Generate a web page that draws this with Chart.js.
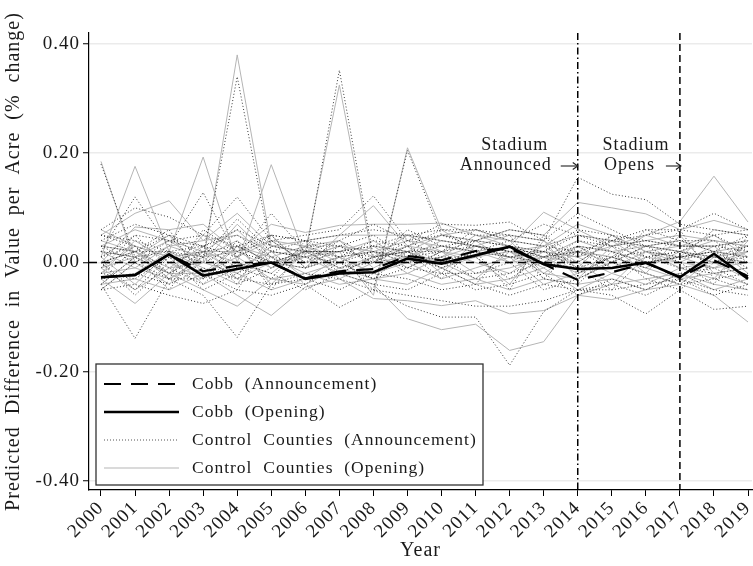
<!DOCTYPE html>
<html><head><meta charset="utf-8">
<script src="https://cdn.jsdelivr.net/npm/chart.js@4.4.1/dist/chart.umd.min.js"></script>
<style>html,body{margin:0;padding:0;background:#fff}canvas{display:block}</style>
</head><body>
<canvas id="c" width="753" height="566"></canvas>
<script>
// ---------- DATA ----------
const years = [2000,2001,2002,2003,2004,2005,2006,2007,2008,2009,2010,2011,2012,2013,2014,2015,2016,2017,2018,2019];
const yTickValues = [-0.4,-0.2,0,0.2,0.4];
const announcedYear = 2014;
const opensYear = 2017;

const cobbAnnouncement = [-0.027,-0.023,0.015,-0.016,-0.006,0.000,-0.029,-0.016,-0.012,0.012,0.004,0.021,0.026,-0.003,-0.032,-0.018,-0.001,-0.027,0.004,-0.025];
const cobbOpening      = [-0.027,-0.023,0.015,-0.024,-0.012,0.000,-0.030,-0.020,-0.018,0.007,-0.002,0.013,0.029,-0.003,-0.012,-0.010,0.000,-0.027,0.016,-0.030];

// control counties, opening-based estimates
const ctlOpen01 = [0.03,0.02,-0.01,0.00,0.38,0.03,0.02,-0.01,0.01,0.02,0.00,0.01,0.02,-0.01,0.03,0.02,0.00,0.01,0.02,0.01];
const ctlOpen02 = [-0.01,0.03,0.01,0.02,-0.02,0.03,0.02,0.325,0.00,0.01,0.03,0.02,0.00,0.01,-0.02,0.00,0.03,0.02,0.00,0.02];
const ctlOpen03 = [0.185,0.00,0.03,0.01,0.02,-0.01,0.01,0.02,-0.06,0.21,0.06,0.02,0.01,0.00,0.02,0.01,-0.01,0.02,0.01,0.00];
const ctlOpen04 = [0.01,0.176,0.02,0.193,0.00,0.179,0.01,0.03,0.02,0.01,0.04,0.03,0.02,0.03,0.05,0.04,0.03,0.02,0.04,0.03];
const ctlOpen05 = [0.05,0.09,0.113,0.04,0.09,0.03,0.04,0.05,0.104,0.03,0.05,0.04,0.06,0.05,0.11,0.10,0.089,0.06,0.077,0.06];
const ctlOpen06 = [0.00,0.065,0.06,0.07,0.02,0.07,0.055,0.068,0.07,0.07,0.072,0.05,0.03,0.092,0.06,0.03,0.05,0.075,0.158,0.074];
const ctlOpen07 = [-0.03,-0.075,-0.02,-0.05,-0.08,-0.03,-0.02,-0.04,-0.03,-0.02,-0.04,-0.03,-0.05,-0.03,-0.04,-0.03,-0.05,-0.02,-0.04,-0.05];
const ctlOpen08 = [-0.02,-0.01,-0.03,0.00,-0.02,-0.05,-0.03,-0.02,-0.04,-0.103,-0.123,-0.113,-0.161,-0.145,-0.06,-0.04,-0.03,-0.02,-0.05,-0.03];
const ctlOpen09 = [-0.04,-0.03,-0.05,-0.02,-0.06,-0.097,-0.045,-0.03,-0.066,-0.07,-0.079,-0.07,-0.094,-0.088,-0.06,-0.068,-0.05,-0.04,-0.06,-0.109];
const ctlOpen10 = [0.02,-0.01,0.03,0.04,0.05,0.02,0.01,0.03,0.02,0.04,0.03,0.02,0.03,0.01,0.04,0.02,0.03,0.04,0.02,0.03];
const ctlOpen11 = [-0.02,0.04,0.00,-0.03,0.03,0.01,-0.02,0.00,0.03,-0.01,0.02,0.00,-0.02,0.02,0.01,-0.02,0.01,0.00,0.03,-0.02];
const ctlOpen12 = [0.01,-0.04,0.02,-0.01,-0.04,0.05,-0.01,0.01,-0.02,0.01,0.00,-0.03,0.02,-0.02,-0.03,0.03,-0.02,-0.04,0.01,0.02];
const ctlOpen13 = [-0.05,0.00,-0.04,0.02,0.00,-0.02,0.03,-0.03,0.00,0.03,-0.02,0.04,0.00,0.03,-0.01,0.05,0.02,-0.01,-0.03,0.04];
const ctlOpen14 = [0.04,0.02,-0.02,0.05,0.01,0.04,0.00,0.02,0.04,0.00,0.01,0.05,0.04,-0.02,0.02,0.01,0.05,0.03,0.05,0.01];
const ctlOpen15 = [-0.01,0.01,0.05,-0.02,0.03,-0.04,0.02,0.04,-0.01,0.02,-0.01,0.01,-0.04,0.04,-0.03,0.00,-0.02,0.05,-0.02,-0.04];
const ctlOpen16 = [0.06,0.03,0.01,0.02,0.06,0.00,-0.01,0.05,0.05,0.05,0.04,0.03,0.05,0.04,0.00,0.04,0.00,0.01,0.06,0.05];
const ctlOpen17 = [0.00,0.02,-0.03,0.01,0.04,-0.01,0.03,0.01,0.02,-0.02,0.01,0.03,0.02,0.00,0.03,-0.01,0.02,0.01,-0.01,0.02];
const ctlOpen18 = [-0.03,-0.02,0.02,-0.04,-0.01,0.02,-0.03,0.01,-0.02,0.00,-0.03,-0.01,0.01,-0.04,-0.02,0.01,-0.01,-0.03,-0.02,-0.01];
const ctlOpen19 = [0.03,0.06,0.04,0.00,0.07,0.01,0.03,0.00,0.03,0.02,0.05,0.06,0.04,0.03,0.07,0.05,0.02,0.03,0.03,0.04];
const ctlOpen20 = [-0.01,-0.05,-0.01,0.03,-0.03,0.00,0.01,-0.02,0.01,0.03,0.02,-0.02,-0.01,0.01,0.00,-0.04,0.02,0.00,-0.01,0.00];
const ctlOpen21 = [0.02,0.01,0.04,0.02,0.02,0.04,0.03,0.04,0.01,0.05,0.02,0.01,0.03,0.02,0.01,0.03,0.04,0.05,0.04,0.03];
const ctlOpen22 = [-0.04,0.01,-0.02,-0.02,0.01,-0.03,-0.04,-0.01,-0.03,-0.04,-0.01,-0.04,-0.03,-0.01,-0.05,-0.02,-0.04,-0.01,0.00,-0.03];

// control counties, announcement-based estimates
const ctlAnn01 = [0.02,0.01,-0.02,0.01,0.34,0.02,0.01,0.00,0.02,0.01,-0.01,0.02,0.01,0.00,0.04,0.03,0.01,0.02,0.01,0.00];
const ctlAnn02 = [-0.02,0.02,0.02,0.01,-0.03,0.02,0.01,0.352,0.01,0.02,0.02,0.03,0.01,0.02,-0.01,0.01,0.02,0.01,0.01,0.03];
const ctlAnn03 = [0.18,0.01,0.02,0.00,0.03,0.00,0.02,0.01,-0.05,0.205,0.05,0.03,0.02,0.01,0.03,0.02,0.00,0.01,0.02,0.01];
const ctlAnn04 = [0.02,0.12,0.03,0.128,0.01,0.09,0.02,0.02,0.03,0.02,0.03,0.04,0.03,0.02,0.06,0.05,0.04,0.03,0.03,0.02];
const ctlAnn05 = [0.06,0.10,0.083,0.05,0.12,0.04,0.05,0.06,0.122,0.04,0.07,0.068,0.074,0.04,0.156,0.125,0.115,0.07,0.06,0.05];
const ctlAnn06 = [0.01,0.05,0.04,0.05,0.03,0.05,0.04,0.05,0.06,0.05,0.06,0.06,0.04,0.07,0.05,0.04,0.06,0.06,0.09,0.06];
const ctlAnn07 = [-0.04,-0.139,-0.03,-0.06,-0.137,-0.04,-0.03,-0.05,-0.02,-0.03,-0.05,-0.04,-0.06,-0.04,-0.05,-0.04,-0.06,-0.03,-0.05,-0.06];
const ctlAnn08 = [-0.03,-0.02,-0.04,-0.01,-0.03,-0.04,-0.02,-0.03,-0.05,-0.08,-0.10,-0.10,-0.188,-0.09,-0.05,-0.05,-0.04,-0.03,-0.06,-0.04];
const ctlAnn09 = [-0.05,-0.04,-0.06,-0.075,-0.05,-0.06,-0.04,-0.082,-0.05,-0.06,-0.07,-0.08,-0.08,-0.07,-0.05,-0.06,-0.094,-0.05,-0.086,-0.08];
const ctlAnn10 = [0.03,0.00,0.04,0.03,0.06,0.03,0.02,0.02,0.03,0.05,0.04,0.03,0.02,0.02,0.05,0.03,0.04,0.03,0.03,0.04];
const ctlAnn11 = [-0.01,0.05,-0.01,-0.04,0.02,0.00,-0.01,0.01,0.02,0.00,0.01,0.01,-0.03,0.01,0.02,-0.01,0.00,0.01,0.02,-0.01];
const ctlAnn12 = [0.00,-0.05,0.01,-0.02,-0.05,0.04,0.00,0.00,-0.03,0.02,-0.01,-0.04,0.03,-0.03,-0.04,0.02,-0.03,-0.05,0.00,0.01];
const ctlAnn13 = [-0.04,0.01,-0.05,0.03,-0.01,-0.03,0.04,-0.02,0.01,0.02,-0.03,0.03,0.01,0.02,0.00,0.04,0.03,0.00,-0.04,0.05];
const ctlAnn14 = [0.05,0.03,-0.03,0.06,0.02,0.05,-0.01,0.03,0.05,0.01,0.02,0.06,0.05,-0.03,0.03,0.00,0.06,0.04,0.04,0.00];
const ctlAnn15 = [0.00,0.02,0.06,-0.03,0.04,-0.05,0.03,0.03,0.00,0.03,0.00,0.02,-0.05,0.05,-0.02,0.01,-0.01,0.06,-0.03,-0.05];
const ctlAnn16 = [0.05,0.04,0.02,0.03,0.05,0.01,0.00,0.04,0.07,0.04,0.05,0.04,0.06,0.05,0.01,0.05,0.01,0.02,0.05,0.06];
const ctlAnn17 = [0.01,0.03,-0.02,0.02,0.03,0.00,0.02,0.02,0.01,-0.01,0.02,0.04,0.03,0.01,0.02,0.00,0.03,0.02,0.00,0.03];
const ctlAnn18 = [-0.02,-0.03,0.01,-0.05,-0.02,0.01,-0.04,0.00,-0.03,-0.01,-0.02,-0.02,0.00,-0.05,-0.03,0.00,-0.02,-0.04,-0.03,-0.02];
const ctlAnn19 = [0.04,0.07,0.05,0.01,0.08,0.02,0.04,0.01,0.04,0.03,0.06,0.05,0.05,0.04,0.09,0.06,0.03,0.04,0.02,0.05];
const ctlAnn20 = [0.00,-0.06,0.00,0.02,-0.04,-0.01,0.02,-0.01,0.00,0.04,0.01,-0.03,-0.02,0.00,-0.01,-0.05,0.01,-0.01,-0.02,-0.01];
const ctlAnn21 = [0.03,0.02,0.05,0.03,0.01,0.05,0.04,0.03,0.00,0.06,0.03,0.02,0.04,0.03,0.02,0.04,0.05,0.06,0.05,0.02];
const ctlAnn22 = [-0.05,0.00,-0.03,-0.03,0.00,-0.02,-0.05,-0.02,-0.04,-0.05,-0.02,-0.05,-0.04,-0.02,-0.06,-0.03,-0.05,-0.02,-0.01,-0.04];

const ctlOpening = [ctlOpen01,ctlOpen02,ctlOpen03,ctlOpen04,ctlOpen05,ctlOpen06,ctlOpen07,ctlOpen08,ctlOpen09,ctlOpen10,ctlOpen11,
                    ctlOpen12,ctlOpen13,ctlOpen14,ctlOpen15,ctlOpen16,ctlOpen17,ctlOpen18,ctlOpen19,ctlOpen20,ctlOpen21,ctlOpen22];
const ctlAnnouncement = [ctlAnn01,ctlAnn02,ctlAnn03,ctlAnn04,ctlAnn05,ctlAnn06,ctlAnn07,ctlAnn08,ctlAnn09,ctlAnn10,ctlAnn11,
                         ctlAnn12,ctlAnn13,ctlAnn14,ctlAnn15,ctlAnn16,ctlAnn17,ctlAnn18,ctlAnn19,ctlAnn20,ctlAnn21,ctlAnn22];

// ---------- STYLE ----------
const FONT = "'Liberation Serif','Times New Roman',serif";
const TXT = '#1a1a1a';
const TRACK = '1px';
const GRAY_SOLID = '#b5b5b5';
const DOT_COLOR = 'rgba(35,35,35,0.9)';
const COBB_DASH = [17,10];
const DOT_DASH = [1,2.2];

const toPts = arr => years.map((yr,i) => ({x: yr, y: arr[i]}));

const datasets = [];
datasets.push({label:'Cobb (Opening)', data: toPts(cobbOpening), borderColor:'#000', borderWidth:2.6});
datasets.push({label:'Cobb (Announcement)', data: toPts(cobbAnnouncement), borderColor:'#000', borderWidth:2.2, borderDash: COBB_DASH});
ctlAnnouncement.forEach(a => datasets.push({label:'Control Counties (Announcement)', data: toPts(a), borderColor: DOT_COLOR, borderWidth:1, borderDash: DOT_DASH}));
ctlOpening.forEach(a => datasets.push({label:'Control Counties (Opening)', data: toPts(a), borderColor: GRAY_SOLID, borderWidth:1}));
const lastControlAnnIndex = 2; // last control drawn (datasets draw in reverse order)

const legendItems = [
  {text:'Cobb  (Announcement)', color:'#000', width:2.2, dash: COBB_DASH},
  {text:'Cobb  (Opening)', color:'#000', width:2.4, dash: []},
  {text:'Control  Counties  (Announcement)', color:'#555', width:1, dash:[1,2]},
  {text:'Control  Counties  (Opening)', color:GRAY_SOLID, width:1, dash:[]}
];

const extras = {
  id:'extras',
  beforeUpdate(chart){ chart.ctx.letterSpacing = TRACK; },
  beforeDraw(chart){ chart.ctx.letterSpacing = TRACK; },
  afterDatasetDraw(chart, args){
    if (args.index !== lastControlAnnIndex) return;
    const {ctx, chartArea:a, scales:{y}} = chart;
    const y0 = y.getPixelForValue(0);
    ctx.save();
    ctx.strokeStyle = '#000'; ctx.lineWidth = 1.4; ctx.setLineDash([8,5]);
    ctx.beginPath(); ctx.moveTo(a.left, y0); ctx.lineTo(a.right, y0); ctx.stroke();
    ctx.restore();
  },
  afterDatasetsDraw(chart){
    const {ctx, chartArea:a, scales:{x}} = chart;
    const xa = x.getPixelForValue(announcedYear);
    const xo = x.getPixelForValue(opensYear);
    ctx.save();
    ctx.strokeStyle = '#000'; ctx.lineWidth = 1.5;
    ctx.setLineDash([7,3,1.5,3]);
    ctx.beginPath(); ctx.moveTo(xa, a.top); ctx.lineTo(xa, a.bottom); ctx.stroke();
    ctx.setLineDash([7,4]);
    ctx.beginPath(); ctx.moveTo(xo, a.top); ctx.lineTo(xo, a.bottom); ctx.stroke();
    ctx.setLineDash([]);
    ctx.fillStyle = TXT;
    ctx.font = '18px ' + FONT;
    ctx.textBaseline = 'middle';
    ctx.textAlign = 'center';
    ctx.fillText('Stadium', xa - 63, 145);
    ctx.fillText('Stadium', xo - 44, 145);
    ctx.textAlign = 'right';
    ctx.fillText('Announced', xa - 26, 165);
    ctx.fillText('Opens', xo - 25, 165);
    const arrow = (x0, x1, yy) => {
      ctx.lineWidth = 1.1; ctx.strokeStyle = '#222';
      ctx.beginPath(); ctx.moveTo(x0, yy); ctx.lineTo(x1, yy); ctx.stroke();
      ctx.beginPath(); ctx.moveTo(x1-5, yy-3.5); ctx.lineTo(x1, yy); ctx.lineTo(x1-5, yy+3.5); ctx.stroke();
    };
    arrow(xa - 17, xa, 166);
    arrow(xo - 14, xo + 1, 166);
    ctx.restore();
  },
  afterDraw(chart){
    const ctx = chart.ctx;
    const bx = 96, by = 364, bw = 387, bh = 121;
    ctx.save();
    ctx.fillStyle = '#fff'; ctx.fillRect(bx, by, bw, bh);
    ctx.strokeStyle = '#333'; ctx.lineWidth = 1.3; ctx.setLineDash([]);
    ctx.strokeRect(bx, by, bw, bh);
    ctx.font = '17.5px ' + FONT; ctx.fillStyle = TXT;
    ctx.textBaseline = 'middle'; ctx.textAlign = 'left';
    legendItems.forEach((it, i) => {
      const yy = by + 20 + i*28;
      ctx.strokeStyle = it.color; ctx.lineWidth = it.width; ctx.setLineDash(it.dash);
      ctx.beginPath(); ctx.moveTo(bx + 8, yy); ctx.lineTo(bx + 83, yy); ctx.stroke();
      ctx.setLineDash([]);
      ctx.fillText(it.text, bx + 96, yy);
    });
    ctx.restore();
  }
};

new Chart(document.getElementById('c'), {
  type: 'line',
  data: { datasets },
  options: {
    responsive: false,
    animation: false,
    events: [],
    layout: { padding: { top: 33, right: 1, left: 0, bottom: 0 } },
    elements: { point: { radius: 0 }, line: { tension: 0, fill: false } },
    plugins: { legend: { display: false }, tooltip: { enabled: false } },
    scales: {
      x: {
        type: 'linear',
        min: 1999.648, max: 2019.117,
        afterBuildTicks: s => { s.ticks = years.map(v => ({ value: v })); },
        afterFit: s => { s.height = 76; s.paddingLeft = 0; s.paddingRight = 0; },
        ticks: { autoSkip: false, maxRotation: 45, minRotation: 45, padding: 1,
                 color: TXT, font: { family: FONT, size: 19 }, callback: v => String(v) },
        grid: { drawOnChartArea: false, drawTicks: true, tickLength: 6, tickColor: '#000', tickWidth: 1 },
        border: { display: true, color: '#000', width: 1.2 },
        title: { display: true, text: 'Year', color: TXT, font: { family: FONT, size: 20 }, padding: { top: 0, bottom: 3 } }
      },
      y: {
        min: -0.4165, max: 0.4201,
        afterBuildTicks: s => { s.ticks = yTickValues.map(v => ({ value: v })); },
        afterFit: s => { s.width = 89; s.paddingTop = 0; s.paddingBottom = 0; },
        ticks: { padding: 3, color: TXT, font: { family: FONT, size: 19 }, callback: v => v.toFixed(2) },
        grid: { color: '#ebebeb', lineWidth: 1.5, drawTicks: true, tickLength: 6, tickColor: '#000', tickWidth: 1 },
        border: { display: true, color: '#000', width: 1.2 },
        title: { display: true, text: 'Predicted  Difference  in  Value  per  Acre  (%  change)', color: TXT,
                 font: { family: FONT, size: 20 }, padding: { top: 2, bottom: 0 } }
      }
    }
  },
  plugins: [extras]
});
</script>
</body></html>
